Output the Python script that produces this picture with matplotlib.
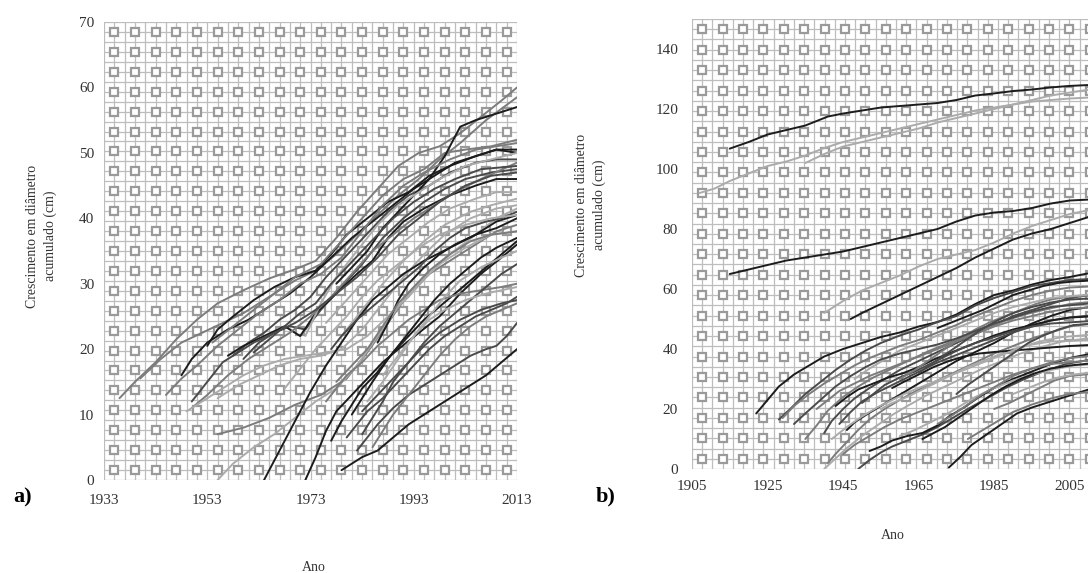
"""Crescimento em diâmetro acumulado — painéis a) e b)."""
import matplotlib
matplotlib.use("Agg")
import matplotlib.pyplot as plt
import numpy as np

plt.rcParams["font.family"] = ["Liberation Serif", "DejaVu Serif"]

# cores das séries
K = "#1c1c1c"
D = "#4a4a4a"
M = "#7c7c7c"
L = "#ababab"

# ---------------- painel a) (ano, cm) ----------------
a01 = [(1936, 12.5), (1939, 15), (1943, 18), (1947, 21.5), (1951, 24.5), (1955, 27), (1960, 29), (1965, 30.8), (1970, 32.2), (1974, 33.5), (1978, 37), (1982, 41), (1986, 44.5), (1990, 48), (1994, 50), (1998, 51), (2002, 53), (2006, 55.5), (2010, 58), (2013, 60)]
a02 = [(1940, 15.5), (1944, 18.5), (1948, 21), (1952, 22.5), (1956, 24), (1960, 25.5), (1965, 28), (1970, 30.5), (1974, 32), (1978, 34.5), (1982, 37.5), (1986, 40.5), (1990, 43.5), (1994, 46), (1998, 49), (2002, 51.5), (2007, 55), (2013, 58.5)]
a03 = [(1948, 16), (1950, 18.5), (1953, 21), (1957, 23), (1961, 24.5), (1965, 26.5), (1969, 28.5), (1973, 31), (1977, 34), (1981, 37), (1985, 39.5), (1989, 42), (1993, 44.5), (1997, 46.5), (2001, 48.5), (2005, 49.5), (2009, 50.5), (2013, 50.5)]
a04 = [(1953, 20.5), (1955, 23), (1958, 25), (1962, 27.5), (1966, 29.5), (1970, 31), (1974, 32), (1977, 34.5), (1980, 37.5), (1984, 40), (1988, 42.5), (1992, 44), (1996, 46.5), (2000, 48), (2005, 49.5), (2009, 50.5), (2013, 50)]
a05 = [(1958, 19), (1961, 21), (1964, 22.5), (1967, 24.5), (1970, 26), (1973, 28), (1976, 31), (1979, 33.5), (1982, 36), (1985, 38.5), (1988, 41), (1992, 43.5), (1996, 45), (2000, 47), (2005, 48.5), (2009, 49), (2013, 49)]
a06 = [(1960, 18.5), (1963, 21), (1966, 22.5), (1969, 23.5), (1972, 23), (1975, 26), (1979, 29.5), (1983, 33), (1987, 37), (1991, 40), (1995, 42.5), (1999, 44.5), (2003, 46), (2008, 47), (2013, 47.5)]
a07 = [(1957, 19), (1960, 20.5), (1964, 22), (1968, 23.5), (1971, 22), (1974, 25.5), (1978, 28.5), (1982, 31.5), (1985, 33.5), (1988, 37), (1991, 39.5), (1995, 41.5), (2000, 43.5), (2005, 45), (2009, 46), (2013, 46)]
a08 = [(1954, 21), (1958, 23.5), (1962, 26), (1966, 28.5), (1970, 31), (1975, 33), (1979, 36.5), (1983, 40), (1987, 43.5), (1991, 46), (1995, 47.5), (1999, 50), (2003, 50.5), (2008, 51), (2013, 52)]
a09 = [(1978, 30), (1981, 32.5), (1984, 35), (1987, 38.5), (1990, 41), (1993, 43.5), (1996, 46), (1999, 49.5), (2002, 54), (2005, 55), (2009, 56), (2013, 57)]
a10 = [(1972, 22), (1975, 27), (1978, 31), (1982, 35), (1986, 39), (1990, 42), (1994, 44), (1998, 46), (2003, 48), (2008, 49), (2013, 50)]
a11 = [(1976, 24), (1980, 27.5), (1984, 31), (1988, 34.5), (1992, 37), (1996, 39.5), (2000, 41.5), (2005, 43), (2009, 44), (2013, 44)]
a12 = [(1979, 22), (1983, 26), (1987, 30), (1991, 33.5), (1995, 36.5), (1999, 39), (2004, 41), (2008, 42), (2013, 43)]
a13 = [(1950, 11), (1953, 13), (1957, 16), (1961, 18.5), (1965, 20.5), (1969, 22.5), (1973, 25), (1977, 28), (1981, 31.5), (1985, 35), (1989, 37.5), (1993, 40), (1997, 42), (2001, 44), (2006, 46), (2013, 48.5)]
a14 = [(1949, 10.5), (1952, 12), (1956, 14), (1960, 16), (1964, 17.5), (1968, 18.5), (1972, 19), (1976, 19.5), (1980, 20), (1984, 22), (1988, 25), (1992, 28), (1996, 31.5), (2000, 34.5), (2005, 37.5), (2009, 40), (2013, 41.5)]
a15 = [(1950, 12), (1953, 15), (1956, 18), (1959, 19.5), (1962, 21), (1966, 22.5), (1970, 24), (1974, 26), (1978, 28.5), (1982, 31), (1986, 34), (1990, 37.5), (1994, 40), (1998, 42.5), (2003, 45), (2008, 46.5), (2013, 47)]
a16 = [(1955, 12.5), (1959, 14.5), (1963, 16), (1967, 17.5), (1971, 18.5), (1975, 19), (1979, 20), (1983, 23), (1987, 27), (1991, 31), (1995, 34.5), (1999, 37.5), (2004, 40), (2009, 41.5), (2013, 42)]
a17 = [(1955, 7), (1960, 8), (1965, 9.5), (1970, 11.5), (1975, 13), (1980, 15.5), (1984, 19.5), (1988, 24), (1992, 28.5), (1996, 31.5), (2000, 33.5), (2005, 36), (2009, 38), (2013, 39)]
a18 = [(1955, 0), (1958, 2.5), (1962, 5), (1966, 7), (1970, 9.5), (1974, 12), (1978, 14), (1982, 17.5), (1986, 22), (1990, 26.5), (1994, 30), (1998, 33), (2003, 35.5), (2008, 37.5), (2013, 38)]
a19 = [(1964, 0), (1967, 4.5), (1970, 9), (1973, 13.5), (1976, 17.5), (1979, 21), (1982, 24.5), (1985, 27.5), (1988, 29.5), (1991, 31.5), (1995, 33.5), (2000, 35.5), (2005, 37.5), (2009, 39.5), (2013, 40.5)]
a20 = [(1972, 0), (1974, 3.5), (1976, 7.5), (1978, 10.5), (1981, 13), (1984, 15.5), (1987, 18), (1990, 20), (1994, 22.5), (1998, 25), (2002, 28.5), (2006, 31.5), (2010, 34), (2013, 36)]
a21 = [(1979, 1.5), (1981, 2.5), (1983, 3.5), (1986, 4.5), (1989, 6.5), (1992, 8.5), (1995, 10), (1998, 11.5), (2001, 13), (2004, 14.5), (2007, 16), (2010, 18), (2013, 20)]
a22 = [(1982, 4.5), (1984, 6.5), (1986, 8.5), (1989, 11), (1992, 13), (1995, 14.5), (1998, 16), (2001, 17.5), (2004, 19), (2007, 20), (2009, 20.5), (2011, 22), (2013, 24)]
a23 = [(1980, 6.5), (1982, 8.5), (1984, 10.5), (1987, 12.5), (1990, 15), (1993, 17.5), (1996, 20), (1999, 22), (2002, 23.5), (2005, 25), (2008, 26), (2011, 27), (2013, 28)]
a24 = [(1977, 6), (1979, 9), (1981, 11.5), (1983, 14), (1986, 16.5), (1989, 19.5), (1992, 22), (1995, 24.5), (1998, 26.5), (2001, 28.5), (2004, 30.5), (2007, 32.5), (2010, 34.5), (2013, 36.5)]
a25 = [(1976, 12), (1978, 14), (1980, 16), (1983, 18), (1986, 20.5), (1989, 22.5), (1992, 24.5), (1995, 26), (1998, 27.5), (2002, 28.5), (2006, 29), (2010, 29.5), (2013, 30)]
a26 = [(1983, 7), (1985, 9.5), (1987, 12), (1989, 15), (1992, 18), (1995, 21), (1998, 23.5), (2001, 25.5), (2004, 27.5), (2007, 29.5), (2010, 31.5), (2013, 33)]
a27 = [(1981, 10), (1983, 12.5), (1985, 15), (1988, 18.5), (1991, 21.5), (1994, 24.5), (1997, 27.5), (2000, 30), (2003, 32), (2006, 34), (2009, 35.5), (2013, 37)]
a28 = [(1985, 5), (1987, 7.5), (1989, 10), (1992, 13), (1995, 16), (1998, 19), (2001, 21.5), (2004, 23.5), (2007, 25), (2010, 26), (2013, 27)]
a29 = [(1984, 12), (1987, 15), (1990, 18.5), (1993, 22), (1996, 25), (1999, 28), (2002, 30.5), (2006, 32.5), (2010, 34), (2013, 35)]
a30 = [(1977, 20), (1979, 22), (1982, 24.5), (1985, 26.5), (1988, 28.5), (1991, 30.5), (1994, 32.5), (1997, 35), (2000, 37), (2003, 38.5), (2007, 39.5), (2010, 40), (2013, 41)]
a31 = [(1986, 21), (1988, 24), (1990, 27.5), (1992, 30), (1995, 32.5), (1998, 34.5), (2001, 36), (2005, 37.5), (2009, 38.5), (2013, 40)]
a32 = [(1987, 16), (1990, 19), (1993, 22), (1996, 24.5), (1999, 26), (2003, 27.5), (2007, 28.5), (2013, 29.5)]
a33 = [(1983, 10.5), (1986, 13), (1989, 15.5), (1992, 18), (1995, 20.5), (1998, 22.5), (2002, 24.5), (2006, 26), (2010, 27), (2013, 27.5)]
a34 = [(1978, 15), (1981, 17.5), (1984, 20), (1987, 23.5), (1990, 27), (1993, 29.5), (1996, 32), (2000, 34.5), (2004, 36.5), (2008, 37.5), (2013, 38)]
a35 = [(1968, 14), (1971, 17), (1974, 20), (1977, 22.5), (1980, 25), (1983, 28), (1986, 30.5), (1990, 33), (1994, 35.5), (1998, 37.5), (2003, 39), (2008, 40), (2013, 40.5)]
a36 = [(1962, 19.5), (1965, 21.5), (1968, 23.5), (1971, 25.5), (1974, 27), (1977, 30), (1980, 32.5), (1983, 35), (1986, 37.5), (1989, 40), (1993, 42.5), (1997, 44.5), (2001, 46), (2006, 47.5), (2013, 48)]
a37 = [(1945, 13), (1948, 15.5), (1951, 17.5), (1955, 20.5), (1959, 23), (1963, 25.5), (1967, 27.5), (1971, 30), (1975, 31.5), (1979, 34), (1983, 38), (1987, 42), (1991, 45), (1995, 47), (2000, 49), (2005, 50.5), (2013, 51.5)]

A_SERIES = [a01, a02, a03, a04, a05, a06, a07, a08, a09, a10, a11, a12, a13, a14, a15, a16, a17, a18, a19,
            a20, a21, a22, a23, a24, a25, a26, a27, a28, a29, a30, a31, a32, a33, a34, a35, a36, a37]
A_COLORS = [M, M, K, K, D, D, K, M, K, L, L, L, M, L, D, L, M, L, K,
            K, K, D, D, K, M, D, K, M, L, D, K, L, D, M, L, D, M]
A_XTICKS = [1933, 1953, 1973, 1993, 2013]
A_YTICKS = [0, 10, 20, 30, 40, 50, 60, 70]

# ---------------- painel b) (ano, cm) ----------------
b01 = [(1915, 106.8), (1920, 109), (1925, 111.5), (1930, 113), (1935, 114.5), (1938, 116), (1941, 117.5), (1945, 118.5), (1950, 119.5), (1955, 120.5), (1960, 121), (1965, 121.5), (1970, 122), (1975, 123), (1980, 124.5), (1985, 125.2), (1990, 126), (1995, 126.5), (2000, 127.2), (2005, 127.7), (2010, 128), (2013, 128.3)]
b02 = [(1907, 92), (1911, 93.5), (1915, 96), (1920, 98.5), (1925, 101), (1930, 102.5), (1935, 104.5), (1940, 107), (1945, 109), (1950, 110.5), (1955, 112), (1960, 113.5), (1965, 115), (1970, 116.5), (1975, 118), (1980, 119.5), (1985, 120.5), (1990, 121.5), (1995, 122.5), (2000, 123), (2005, 123.5), (2013, 124)]
b03 = [(1935, 102), (1940, 105), (1945, 107.5), (1950, 109), (1955, 110.5), (1960, 112), (1965, 113.5), (1970, 115.5), (1975, 117), (1980, 118.5), (1985, 120), (1990, 121.5), (1995, 123), (2000, 124.5), (2005, 125.5), (2013, 127)]
b04 = [(1915, 65), (1920, 66.5), (1925, 68), (1930, 69.5), (1935, 70.5), (1940, 71.5), (1945, 72.5), (1950, 74), (1955, 75.5), (1960, 77), (1965, 78.5), (1970, 80), (1975, 82.5), (1980, 84.5), (1985, 85.5), (1990, 86), (1995, 87), (2000, 88.5), (2005, 89.5), (2013, 90)]
b05 = [(1947, 50), (1950, 52), (1955, 55), (1960, 58), (1965, 61), (1970, 64), (1975, 67), (1980, 70.5), (1985, 73.5), (1990, 76.5), (1995, 78.5), (2000, 80), (2005, 82), (2010, 84), (2013, 85)]
b06 = [(1940, 52), (1945, 56), (1950, 59.5), (1955, 62), (1960, 64.5), (1965, 67.5), (1970, 70), (1975, 71.5), (1980, 73), (1985, 75.5), (1990, 78.5), (1995, 81), (2000, 83), (2005, 85), (2013, 87)]
b07 = [(1922, 18.5), (1925, 23), (1928, 27.5), (1932, 31.5), (1936, 34.5), (1940, 37.5), (1945, 40), (1950, 42), (1955, 44), (1960, 45.5), (1965, 47.5), (1970, 49), (1975, 51.5), (1980, 55), (1985, 58), (1990, 59.5), (1995, 61.5), (2000, 63), (2005, 64), (2013, 66)]
b08 = [(1928, 16.5), (1931, 20), (1935, 25), (1939, 29), (1943, 33), (1947, 36.5), (1951, 39.5), (1955, 42), (1960, 44.5), (1965, 46.5), (1970, 49), (1975, 51), (1980, 54.5), (1985, 57), (1990, 59), (1995, 61), (2000, 62), (2005, 63), (2013, 63.5)]
b09 = [(1929, 17), (1932, 21), (1936, 25), (1940, 28.5), (1944, 31.5), (1948, 34.5), (1952, 37), (1956, 39), (1960, 41), (1965, 43), (1970, 45.5), (1975, 48), (1980, 51), (1985, 53.5), (1990, 56), (1995, 58), (2000, 59.5), (2005, 60.5), (2013, 61)]
b10 = [(1940, 12), (1942, 16), (1945, 20), (1948, 23.5), (1952, 27), (1956, 30), (1960, 33), (1965, 36), (1970, 39), (1975, 42), (1980, 45), (1985, 48), (1990, 51), (1995, 53), (2000, 55), (2005, 57), (2013, 58.5)]
b11 = [(1935, 10), (1938, 14.5), (1941, 19.5), (1945, 24), (1949, 27.5), (1953, 30.5), (1958, 33.5), (1963, 36.5), (1968, 39.5), (1973, 42), (1978, 44.5), (1983, 47), (1988, 49.5), (1993, 51.5), (1998, 53), (2005, 55), (2013, 56)]
b12 = [(1946, 13), (1948, 15.5), (1951, 18), (1955, 21), (1959, 24), (1963, 27), (1967, 30), (1971, 33), (1975, 36), (1980, 39), (1985, 42), (1990, 45.5), (1995, 48.5), (2000, 51), (2005, 53), (2013, 54.5)]
b13 = [(1941, 2), (1943, 5), (1946, 9), (1949, 13), (1952, 16.5), (1956, 20), (1960, 23), (1965, 26.5), (1970, 29.5), (1975, 32.5), (1980, 35.5), (1985, 38.5), (1990, 41), (1995, 43.5), (2000, 45.5), (2005, 47.5), (2013, 49)]
b14 = [(1940, 0), (1943, 3.5), (1946, 7), (1950, 11), (1954, 14.5), (1958, 18), (1962, 21), (1967, 24.5), (1972, 27.5), (1977, 30.5), (1982, 33.5), (1987, 36), (1992, 38.5), (1997, 40.5), (2003, 42.5), (2013, 44)]
b15 = [(1949, 0), (1952, 3), (1955, 5.5), (1958, 7.5), (1962, 9.5), (1966, 11.5), (1970, 14), (1974, 17), (1978, 20), (1983, 23.5), (1988, 27), (1993, 30), (1998, 32.5), (2004, 35), (2013, 37)]
b16 = [(1952, 6), (1955, 7.5), (1958, 9.5), (1962, 11), (1966, 12), (1970, 14.5), (1973, 17.5), (1977, 20.5), (1981, 24), (1985, 27), (1990, 30), (1995, 32.5), (2000, 35), (2005, 37), (2013, 39)]
b17 = [(1973, 0.5), (1976, 4), (1979, 8), (1983, 11.5), (1987, 15), (1991, 18.5), (1995, 20.5), (2000, 22.5), (2005, 24.5), (2010, 26.5), (2013, 27.5)]
b18 = [(1978, 10), (1982, 13), (1986, 16), (1990, 19), (1995, 21.5), (2000, 23.5), (2005, 25), (2013, 26)]
b19 = [(1960, 11), (1964, 13), (1968, 15.5), (1972, 18), (1976, 21), (1980, 24), (1985, 27), (1990, 29.5), (1995, 31.5), (2000, 33), (2006, 34.5), (2013, 35)]
b20 = [(1944, 15), (1947, 19), (1950, 22.5), (1954, 25.5), (1958, 28), (1962, 30.5), (1966, 33), (1970, 35.5), (1975, 38), (1980, 40.5), (1985, 43), (1990, 45.5), (1995, 47.5), (2000, 49.5), (2005, 50.5), (2013, 51.5)]
b21 = [(1943, 21), (1946, 24), (1949, 26.5), (1953, 28.5), (1957, 30.5), (1961, 32), (1965, 34), (1969, 36.5), (1973, 38.5), (1977, 40.5), (1981, 42.5), (1985, 44.5), (1990, 46.5), (1995, 48), (2000, 49.5), (2005, 50.5), (2013, 51)]
b22 = [(1938, 20), (1941, 23), (1944, 26), (1948, 28.5), (1952, 31), (1956, 33), (1960, 35), (1965, 37.5), (1970, 40), (1975, 42.5), (1980, 45), (1985, 47.5), (1990, 49.5), (1995, 51), (2000, 52.5), (2005, 53.5), (2013, 54)]
b23 = [(1950, 22), (1953, 25), (1956, 28), (1960, 30.5), (1964, 32.5), (1968, 35), (1972, 37.5), (1976, 40), (1980, 42), (1985, 44), (1990, 46), (1995, 47.5), (2000, 48.5), (2013, 49.5)]
b24 = [(1955, 20), (1958, 22), (1962, 24), (1966, 26.5), (1970, 29), (1974, 31.5), (1978, 34), (1982, 36), (1986, 38), (1990, 40), (1995, 41.5), (2000, 42.5), (2013, 43)]
b25 = [(1958, 27), (1961, 29), (1965, 31.5), (1969, 34), (1973, 36), (1977, 37.5), (1981, 38.5), (1985, 39), (1990, 39.5), (1995, 40), (2000, 40.5), (2005, 41), (2013, 41.5)]
b26 = [(1960, 30), (1964, 33), (1968, 36.5), (1972, 40), (1976, 43.5), (1980, 46.5), (1984, 49), (1988, 51), (1992, 53), (1996, 55), (2000, 56.5), (2005, 57.5), (2013, 58)]
b27 = [(1965, 32), (1969, 35.5), (1973, 39), (1977, 42.5), (1981, 46), (1985, 49), (1990, 52), (1995, 54), (2000, 55.5), (2005, 56.5), (2013, 57)]
b28 = [(1948, 30), (1952, 33.5), (1956, 36.5), (1960, 39.5), (1965, 42), (1970, 44.5), (1975, 47), (1980, 49.5), (1985, 52), (1990, 54), (1995, 55.5), (2000, 57), (2013, 58.5)]
b29 = [(1966, 10), (1969, 12), (1972, 14), (1976, 17.5), (1980, 21), (1984, 24.5), (1988, 27.5), (1992, 30), (1996, 32), (2000, 33.5), (2005, 34.5), (2013, 35.5)]
b30 = [(1970, 15), (1974, 18), (1978, 21.5), (1982, 25), (1986, 28), (1990, 31), (1995, 33.5), (2000, 35.5), (2005, 37), (2013, 38)]
b31 = [(1932, 15), (1935, 18.5), (1939, 23), (1943, 27.5), (1947, 31), (1951, 34), (1955, 36.5), (1960, 38.5), (1965, 40), (1970, 41.5), (1975, 43.5), (1980, 46), (1985, 48.5), (1990, 50.5), (1995, 52.5), (2000, 54), (2013, 55.5)]
b32 = [(1942, 10), (1946, 14), (1950, 17.5), (1954, 20.5), (1958, 23), (1962, 25.5), (1967, 28), (1972, 30.5), (1977, 33), (1982, 35.5), (1987, 38), (1992, 40.5), (1997, 42.5), (2003, 44), (2013, 45)]
b33 = [(1945, 5), (1948, 8), (1952, 11), (1956, 14), (1960, 16.5), (1965, 19), (1970, 21.5), (1975, 24), (1980, 26.5), (1985, 29), (1990, 31.5), (1995, 33.5), (2000, 35), (2013, 36.5)]
b34 = [(1975, 25), (1978, 28), (1982, 31.5), (1986, 35), (1990, 38.5), (1994, 42), (1998, 44.5), (2002, 46.5), (2006, 48), (2013, 48.5)]
b35 = [(1970, 47), (1974, 49), (1978, 51), (1982, 53), (1986, 55.5), (1990, 58), (1994, 59.5), (1998, 61), (2002, 62), (2006, 62.5), (2013, 63)]
b36 = [(1985, 20), (1989, 22), (1993, 24.5), (1997, 27), (2001, 29.5), (2005, 31), (2013, 32)]
b37 = [(1990, 25), (1994, 27), (1998, 29), (2002, 30.5), (2006, 31.5), (2013, 32.5)]

B_SERIES = [b01, b02, b03, b04, b05, b06, b07, b08, b09, b10, b11, b12, b13, b14, b15, b16, b17, b18, b19,
            b20, b21, b22, b23, b24, b25, b26, b27, b28, b29, b30, b31, b32, b33, b34, b35, b36, b37]
B_COLORS = [K, L, L, K, K, L, K, D, M, D, M, K, M, L, D, K, K, M, L,
            D, K, M, D, L, K, M, D, L, K, M, D, L, M, D, K, M, L]
B_XTICKS = [1905, 1925, 1945, 1965, 1985, 2005]
B_YTICKS = [0, 20, 40, 60, 80, 100, 120, 140]


def draw_pattern(ax, ncols, nrows):
    """Fundo quadriculado: grade fina + quadradinhos vazados."""
    for i in range(2 * ncols + 1):
        ax.plot([i / (2 * ncols)] * 2, [0, 1], transform=ax.transAxes,
                color="#bdbdbd", lw=0.9, zorder=0)
    for j in range(2 * nrows + 1):
        ax.plot([0, 1], [j / (2 * nrows)] * 2, transform=ax.transAxes,
                color="#bdbdbd", lw=0.9, zorder=0)
    xs = (np.arange(ncols) + 0.5) / ncols
    ys = (np.arange(nrows) + 0.5) / nrows
    gx, gy = np.meshgrid(xs, ys)
    ax.plot(gx.ravel(), gy.ravel(), "s", transform=ax.transAxes, ms=6,
            mfc="white", mec="#9a9a9a", mew=1.6, zorder=1)


def draw_panel(ax, series, colors, xlim, ylim, xticks, yticks, ncols, nrows, xpad, ypad):
    draw_pattern(ax, ncols, nrows)
    for s, c in zip(series, colors):
        arr = np.array(s, dtype=float)
        ax.plot(arr[:, 0], arr[:, 1], color=c, lw=1.4, zorder=3,
                solid_capstyle="round", solid_joinstyle="round")
    ax.set_xlim(*xlim)
    ax.set_ylim(*ylim)
    ax.set_xticks(xticks)
    ax.set_yticks(yticks)
    ax.tick_params(length=0, labelsize=11, colors="#333333")
    ax.tick_params(axis="x", pad=xpad)
    ax.tick_params(axis="y", pad=ypad)
    for sp in ax.spines.values():
        sp.set_visible(False)


fig = plt.figure(figsize=(10.88, 5.73), dpi=100)

ax_a = fig.add_axes([0.0956, 0.1623, 0.3796, 0.7993])
draw_panel(ax_a, A_SERIES, A_COLORS, (1933, 2013), (0, 70), A_XTICKS, A_YTICKS, 20, 23, 10, 7)

ax_b = fig.add_axes([0.636, 0.1815, 0.375, 0.7853])
draw_panel(ax_b, B_SERIES, B_COLORS, (1905, 2013), (0, 150), B_XTICKS, B_YTICKS, 20, 22, 8, 10)

ylab = "Crescimento em diâmetro\nacumulado (cm)"
fig.text(0.038, 0.588, ylab, rotation=90, ha="center", va="center", fontsize=10,
         color="#333333", linespacing=1.4)
fig.text(0.543, 0.642, ylab, rotation=90, ha="center", va="center", fontsize=10,
         color="#333333", linespacing=1.4)
fig.text(0.288, 0.010, "Ano", ha="center", va="center", fontsize=10, color="#333333")
fig.text(0.821, 0.066, "Ano", ha="center", va="center", fontsize=10, color="#333333")
fig.text(0.021, 0.131, "a)", ha="center", va="center", fontsize=16, fontweight="bold")
fig.text(0.557, 0.133, "b)", ha="center", va="center", fontsize=16, fontweight="bold")

fig.savefig("out.png", dpi=100)
plt.close(fig)
